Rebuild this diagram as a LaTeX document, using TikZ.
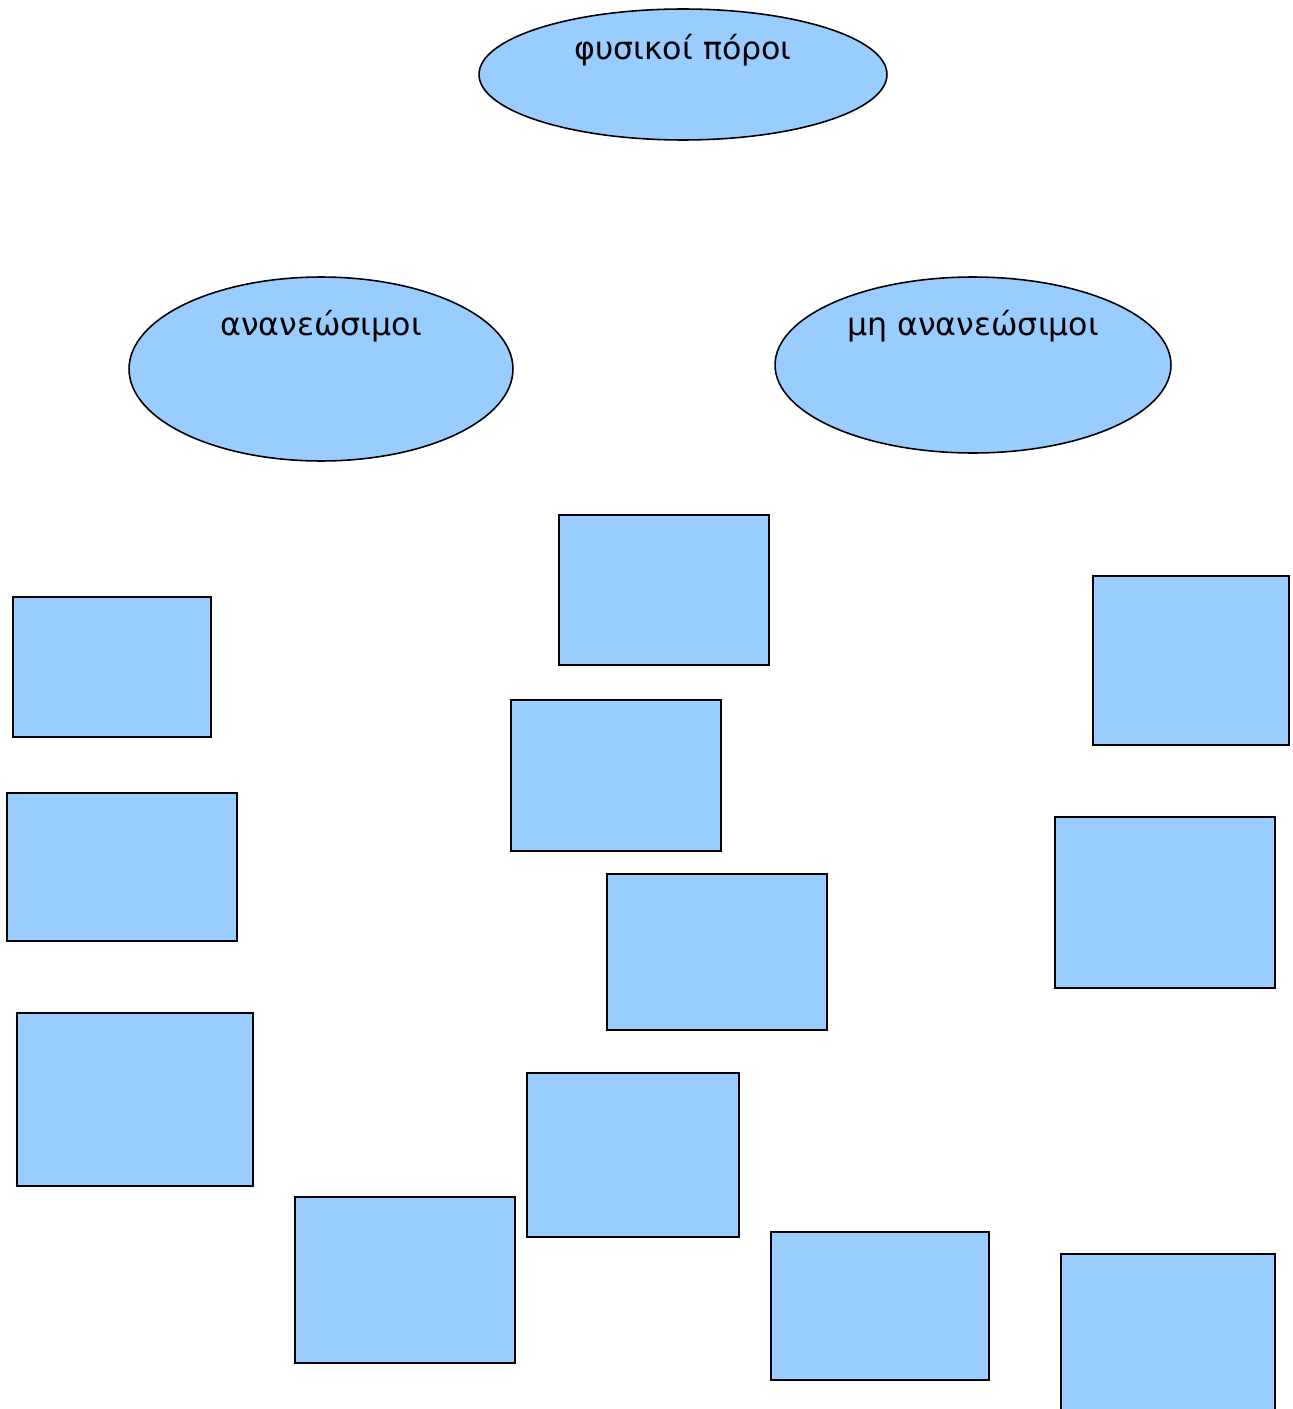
\documentclass[tikz,border=0pt]{standalone}
\usepackage{fontspec}
\setmainfont{DejaVu Sans}
\usepackage{tikz}
\usetikzlibrary{shapes.geometric}
\definecolor{sky}{HTML}{99CCFF}
% box from its corners (x1,y1) to (x2,y2), in pixels
\newcommand{\slot}[5]{%
  \node[slot,minimum width={(#4-#2)*0.02cm},minimum height={(#5-#3)*0.02cm}]
    (#1) at ({(#2+#4)/2},{(#3+#5)/2}) {};}

\begin{document}
\begin{tikzpicture}[
  x=0.02cm, y=-0.02cm,
  font=\fontsize{18}{21}\selectfont,
  blob/.style={ellipse, draw=black, fill=sky, line width=0.9pt, inner sep=0pt},
  slot/.style={rectangle, draw=black, fill=sky, line width=1pt, inner sep=0pt},
  tag/.style={anchor=base},
]
\clip (0,0) rectangle (1292,1409);

% ===== ellipses =====
\node[blob,minimum width=8.16cm,minimum height=2.62cm] (res) at (683,74.5) {};
\node[blob,minimum width=7.68cm,minimum height=3.68cm] (ren) at (321,369) {};
\node[blob,minimum width=7.92cm,minimum height=3.52cm] (non) at (973,365) {};

\node[tag] (resT) at (683,60) {φυσικοί πόροι};
\node[tag] (renT) at (321,335) {ανανεώσιμοι};
\node[tag] (nonT) at (973,335) {μη ανανεώσιμοι};

% ===== empty boxes =====
\slot{b1}{559}{515}{769}{665}
\slot{b2}{13}{597}{211}{737}
\slot{b3}{1093}{576}{1289}{745}
\slot{b4}{511}{700}{721}{851}
\slot{b5}{7}{793}{237}{941}
\slot{b6}{1055}{817}{1275}{988}
\slot{b7}{607}{874}{827}{1030}
\slot{b8}{17}{1013}{253}{1186}
\slot{b9}{527}{1073}{739}{1237}
\slot{b10}{295}{1197}{515}{1363}
\slot{b11}{771}{1232}{989}{1380}
\slot{b12}{1061}{1254}{1275}{1440}
\end{tikzpicture}
\end{document}
